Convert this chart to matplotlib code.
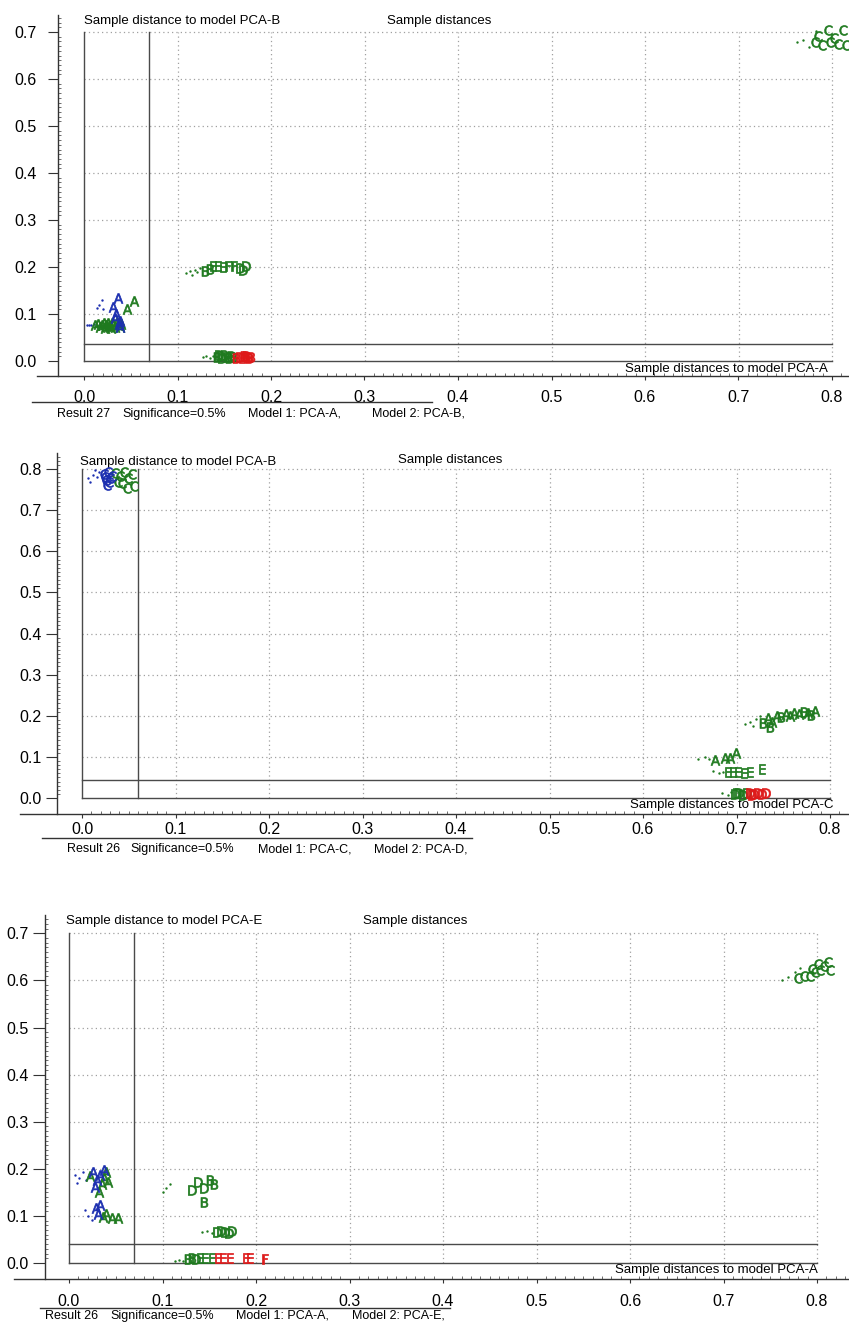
import numpy as np
import matplotlib.pyplot as plt
from matplotlib.lines import Line2D

plt.rcParams['font.family'] = 'Liberation Sans'

W, H = 849, 1324
SX = 935.0  # pixels per distance unit along x

GREEN = '#1f7a1f'
BLUE = '#1c2fb0'
RED = '#de1a1a'
GRAY_LINE = '#4a4a4a'

# ---- Result 27: PCA-A vs PCA-B ----
r27_a_blue_x = [0.031, 0.036, 0.038, 0.034, 0.037, 0.033, 0.039]
r27_a_blue_y = [0.115, 0.134, 0.086, 0.100, 0.078, 0.092, 0.072]
r27_a_green_x = [0.053, 0.046, 0.040, 0.036, 0.031, 0.027, 0.023, 0.019, 0.015, 0.033, 0.028,
                 0.038, 0.024, 0.012, 0.017, 0.021, 0.026, 0.030, 0.035, 0.029, 0.022]
r27_a_green_y = [0.128, 0.110, 0.079, 0.076, 0.078, 0.075, 0.077, 0.076, 0.078, 0.073, 0.072,
                 0.072, 0.074, 0.076, 0.073, 0.080, 0.081, 0.080, 0.082, 0.070, 0.071]
r27_a_dots_x = [0.005, 0.008, 0.011, 0.003, 0.014, 0.019, 0.020, 0.016]
r27_a_dots_y = [0.077, 0.076, 0.078, 0.076, 0.112, 0.130, 0.110, 0.120]

r27_mid_x = [0.129, 0.138, 0.143, 0.154, 0.160, 0.167, 0.173, 0.170, 0.135, 0.149]
r27_mid_y = [0.191, 0.202, 0.202, 0.202, 0.202, 0.198, 0.202, 0.194, 0.196, 0.200]
r27_mid_letters = "BEEFFDDDBE"
r27_mid_dots_x = [0.109, 0.113, 0.119, 0.124, 0.121, 0.116]
r27_mid_dots_y = [0.187, 0.191, 0.194, 0.198, 0.189, 0.184]

r27_low_green_x = [0.142, 0.146, 0.150, 0.153, 0.157, 0.148, 0.155, 0.144, 0.159]
r27_low_green_y = [0.008, 0.010, 0.012, 0.009, 0.011, 0.007, 0.006, 0.012, 0.008]
r27_low_green_letters = "BDBEBDBDB"
r27_low_red_x = [0.163, 0.167, 0.171, 0.175, 0.179, 0.169, 0.177, 0.173]
r27_low_red_y = [0.007, 0.009, 0.010, 0.008, 0.009, 0.006, 0.006, 0.011]
r27_low_red_letters = "BDBDBEBB"
r27_low_dots_x = [0.127, 0.131, 0.135, 0.138]
r27_low_dots_y = [0.008, 0.011, 0.007, 0.010]

r27_c_x = [0.782, 0.785, 0.796, 0.812, 0.798, 0.806, 0.815, 0.789, 0.802]
r27_c_y = [0.679, 0.691, 0.704, 0.704, 0.679, 0.674, 0.672, 0.672, 0.687]
r27_c_dots_x = [0.763, 0.769, 0.783, 0.775]
r27_c_dots_y = [0.679, 0.683, 0.702, 0.668]

# ---- Result 26: PCA-C vs PCA-D ----
r26cd_c_blue_x = [0.024, 0.026, 0.028, 0.030, 0.027, 0.032, 0.025, 0.029]
r26cd_c_blue_y = [0.788, 0.774, 0.793, 0.779, 0.762, 0.783, 0.781, 0.769]
r26cd_c_green_x = [0.035, 0.041, 0.045, 0.049, 0.043, 0.053, 0.056, 0.048, 0.039]
r26cd_c_green_y = [0.791, 0.783, 0.793, 0.779, 0.766, 0.788, 0.759, 0.754, 0.769]
r26cd_c_dots_x = [0.006, 0.012, 0.009, 0.016, 0.018, 0.014]
r26cd_c_dots_y = [0.779, 0.786, 0.769, 0.781, 0.793, 0.798]

r26cd_ab_x = [0.728, 0.734, 0.738, 0.743, 0.748, 0.753, 0.757, 0.762, 0.767, 0.772, 0.777, 0.784, 0.780, 0.736]
r26cd_ab_y = [0.182, 0.195, 0.185, 0.200, 0.197, 0.204, 0.200, 0.207, 0.204, 0.209, 0.207, 0.212, 0.202, 0.173]
r26cd_ab_letters = "BAAABAAAABAABB"
r26cd_ab_dots_x = [0.709, 0.714, 0.721, 0.725, 0.718]
r26cd_ab_dots_y = [0.180, 0.185, 0.192, 0.200, 0.176]

r26cd_a_x = [0.677, 0.688, 0.693, 0.699]
r26cd_a_y = [0.092, 0.097, 0.097, 0.109]
r26cd_a_dots_x = [0.659, 0.666, 0.671]
r26cd_a_dots_y = [0.095, 0.100, 0.094]

r26cd_e_x = [0.691, 0.696, 0.702, 0.708, 0.714, 0.727]
r26cd_e_y = [0.063, 0.063, 0.064, 0.062, 0.063, 0.071]
r26cd_e_dots_x = [0.675, 0.681, 0.686]
r26cd_e_dots_y = [0.066, 0.061, 0.064]

r26cd_low_green_x = [0.698, 0.703, 0.707, 0.711, 0.700]
r26cd_low_green_y = [0.009, 0.011, 0.008, 0.011, 0.013]
r26cd_low_red_x = [0.714, 0.719, 0.723, 0.727, 0.732, 0.717]
r26cd_low_red_y = [0.011, 0.009, 0.013, 0.009, 0.011, 0.007]
r26cd_low_dots_x = [0.684, 0.691, 0.694]
r26cd_low_dots_y = [0.012, 0.007, 0.015]

# ---- Result 26: PCA-A vs PCA-E ----
r26ae_c_x = [0.780, 0.786, 0.793, 0.798, 0.803, 0.807, 0.812, 0.814, 0.801, 0.795]
r26ae_c_y = [0.605, 0.609, 0.609, 0.618, 0.622, 0.631, 0.639, 0.622, 0.635, 0.624]
r26ae_c_dots_x = [0.763, 0.769, 0.776, 0.782]
r26ae_c_dots_y = [0.601, 0.607, 0.618, 0.626]

r26ae_a_up_blue_x = [0.026, 0.030, 0.033, 0.037, 0.028]
r26ae_a_up_blue_y = [0.193, 0.176, 0.187, 0.197, 0.161]
r26ae_a_up_green_x = [0.040, 0.037, 0.022, 0.032, 0.042, 0.035]
r26ae_a_up_green_y = [0.193, 0.180, 0.185, 0.151, 0.172, 0.168]
r26ae_a_up_dots_x = [0.006, 0.011, 0.015, 0.018, 0.009]
r26ae_a_up_dots_y = [0.187, 0.180, 0.193, 0.176, 0.170]

r26ae_a_low_blue_x = [0.029, 0.033, 0.031]
r26ae_a_low_blue_y = [0.117, 0.123, 0.104]
r26ae_a_low_green_x = [0.040, 0.046, 0.052, 0.036]
r26ae_a_low_green_y = [0.104, 0.096, 0.096, 0.098]
r26ae_a_low_dots_x = [0.017, 0.020, 0.025]
r26ae_a_low_dots_y = [0.113, 0.100, 0.091]

r26ae_b_x = [0.138, 0.151, 0.144, 0.155, 0.144, 0.132]
r26ae_b_y = [0.172, 0.176, 0.159, 0.168, 0.130, 0.155]
r26ae_b_letters = "DBDBBD"
r26ae_b_dots_x = [0.100, 0.104, 0.108]
r26ae_b_dots_y = [0.151, 0.159, 0.168]

r26ae_d_x = [0.158, 0.163, 0.167, 0.171, 0.174]
r26ae_d_y = [0.066, 0.068, 0.066, 0.064, 0.068]
r26ae_d_dots_x = [0.142, 0.148, 0.153]
r26ae_d_dots_y = [0.066, 0.068, 0.064]

r26ae_low_green_x = [0.127, 0.132, 0.136, 0.140, 0.145, 0.153]
r26ae_low_green_y = [0.009, 0.010, 0.009, 0.010, 0.010, 0.010]
r26ae_low_green_letters = "BBDEEE"
r26ae_low_red_x = [0.159, 0.165, 0.172, 0.189, 0.194, 0.210]
r26ae_low_red_y = [0.010, 0.010, 0.010, 0.010, 0.010, 0.009]
r26ae_low_red_letters = "EEEEEF"
r26ae_low_dots_x = [0.113, 0.118, 0.122]
r26ae_low_dots_y = [0.005, 0.007, 0.005]


panels = [
    dict(
        x0=84, y0=361, sy=470, band=(0, 428), ytop=0.7,
        yspine_px=58, yspine_top=15, xspine_py=376, xspine_left=37,
        xpad=7, ypad=8, ytick_len=7.5,
        thresh=(0.0695, 0.036),
        ylabel=('Sample distance to model PCA-B', 84, 21),
        title=('Sample distances', 439, 21),
        xlabel=('Sample distances to model PCA-A', 828, 369),
        caption=[('Result 27', 57), ('Significance=0.5%', 122),
                 ('Model 1: PCA-A,', 248), ('Model 2: PCA-B,', 372)],
        caption_py=414, sep=(402, 32, 432),
        letters=[
            (r27_a_green_x, r27_a_green_y, 'A' * len(r27_a_green_x), GREEN),
            (r27_a_blue_x, r27_a_blue_y, 'A' * len(r27_a_blue_x), BLUE),
            (r27_mid_x, r27_mid_y, r27_mid_letters, GREEN),
            (r27_low_green_x, r27_low_green_y, r27_low_green_letters, GREEN),
            (r27_low_red_x, r27_low_red_y, r27_low_red_letters, RED),
            (r27_c_x, r27_c_y, 'C' * len(r27_c_x), GREEN),
        ],
        dots=[
            (r27_a_dots_x, r27_a_dots_y, BLUE),
            (r27_mid_dots_x, r27_mid_dots_y, GREEN),
            (r27_low_dots_x, r27_low_dots_y, GREEN),
            (r27_c_dots_x, r27_c_dots_y, GREEN),
        ],
    ),
    dict(
        x0=82, y0=798, sy=411, band=(432, 862), ytop=0.8,
        yspine_px=57, yspine_top=453, xspine_py=814, xspine_left=20,
        xpad=3, ypad=3, ytick_len=8,
        thresh=(0.060, 0.044),
        ylabel=('Sample distance to model PCA-B', 80, 462),
        title=('Sample distances', 450, 460),
        xlabel=('Sample distances to model PCA-C', 833, 805),
        caption=[('Result 26', 67), ('Significance=0.5%', 130),
                 ('Model 1: PCA-C,', 258), ('Model 2: PCA-D,', 374)],
        caption_py=849, sep=(838, 42, 472),
        letters=[
            (r26cd_c_green_x, r26cd_c_green_y, 'C' * len(r26cd_c_green_x), GREEN),
            (r26cd_c_blue_x, r26cd_c_blue_y, 'C' * len(r26cd_c_blue_x), BLUE),
            (r26cd_ab_x, r26cd_ab_y, r26cd_ab_letters, GREEN),
            (r26cd_a_x, r26cd_a_y, 'A' * len(r26cd_a_x), GREEN),
            (r26cd_e_x, r26cd_e_y, 'E' * len(r26cd_e_x), GREEN),
            (r26cd_low_green_x, r26cd_low_green_y, 'D' * len(r26cd_low_green_x), GREEN),
            (r26cd_low_red_x, r26cd_low_red_y, 'D' * len(r26cd_low_red_x), RED),
        ],
        dots=[
            (r26cd_c_dots_x, r26cd_c_dots_y, BLUE),
            (r26cd_ab_dots_x, r26cd_ab_dots_y, GREEN),
            (r26cd_a_dots_x, r26cd_a_dots_y, GREEN),
            (r26cd_e_dots_x, r26cd_e_dots_y, GREEN),
            (r26cd_low_dots_x, r26cd_low_dots_y, GREEN),
        ],
    ),
    dict(
        x0=69, y0=1263, sy=471, band=(896, 1324), ytop=0.7,
        yspine_px=45, yspine_top=915, xspine_py=1279, xspine_left=14,
        xpad=8, ypad=3, ytick_len=9,
        thresh=(0.0695, 0.040),
        ylabel=('Sample distance to model PCA-E', 66, 921),
        title=('Sample distances', 415, 921),
        xlabel=('Sample distances to model PCA-A', 818, 1270),
        caption=[('Result 26', 45), ('Significance=0.5%', 110),
                 ('Model 1: PCA-A,', 236), ('Model 2: PCA-E,', 352)],
        caption_py=1316, sep=(1308, 40, 450),
        letters=[
            (r26ae_c_x, r26ae_c_y, 'C' * len(r26ae_c_x), GREEN),
            (r26ae_a_up_green_x, r26ae_a_up_green_y, 'A' * len(r26ae_a_up_green_x), GREEN),
            (r26ae_a_up_blue_x, r26ae_a_up_blue_y, 'A' * len(r26ae_a_up_blue_x), BLUE),
            (r26ae_a_low_green_x, r26ae_a_low_green_y, 'A' * len(r26ae_a_low_green_x), GREEN),
            (r26ae_a_low_blue_x, r26ae_a_low_blue_y, 'A' * len(r26ae_a_low_blue_x), BLUE),
            (r26ae_b_x, r26ae_b_y, r26ae_b_letters, GREEN),
            (r26ae_d_x, r26ae_d_y, 'D' * len(r26ae_d_x), GREEN),
            (r26ae_low_green_x, r26ae_low_green_y, r26ae_low_green_letters, GREEN),
            (r26ae_low_red_x, r26ae_low_red_y, r26ae_low_red_letters, RED),
        ],
        dots=[
            (r26ae_c_dots_x, r26ae_c_dots_y, GREEN),
            (r26ae_a_up_dots_x, r26ae_a_up_dots_y, BLUE),
            (r26ae_a_low_dots_x, r26ae_a_low_dots_y, BLUE),
            (r26ae_b_dots_x, r26ae_b_dots_y, GREEN),
            (r26ae_d_dots_x, r26ae_d_dots_y, GREEN),
            (r26ae_low_dots_x, r26ae_low_dots_y, GREEN),
        ],
    ),
]

fig = plt.figure(figsize=(W / 100, H / 100), dpi=100)


def draw_panel(cfg):
    x0, y0, sy = cfg['x0'], cfg['y0'], cfg['sy']
    top, bot = cfg['band']

    def dx(px):
        return (px - x0) / SX

    def dy(py):
        return (y0 - py) / sy

    ax = fig.add_axes([0, 1 - bot / H, 1, (bot - top) / H])
    ax.patch.set_visible(False)
    ax.set_xlim(dx(0), dx(W))
    ax.set_ylim(dy(bot), dy(top))

    ytop = cfg['ytop']
    xright = 0.8

    # dotted grid inside the distance frame
    grid_style = dict(color='#a0a0a0', linestyle=(0, (1, 2.5)), linewidth=0.9, zorder=1)
    for gx in np.arange(0.1, xright + 0.001, 0.1):
        ax.plot([gx, gx], [0, ytop], **grid_style)
    for gy in np.arange(0.1, ytop + 0.001, 0.1):
        ax.plot([0, xright], [gy, gy], **grid_style)

    # frame and critical limits
    line_style = dict(color=GRAY_LINE, linewidth=1.0, zorder=2)
    ax.plot([0, 0], [0, ytop], **line_style)
    ax.plot([0, xright], [0, 0], **line_style)
    tx, ty = cfg['thresh']
    ax.plot([tx, tx], [0, ytop], **line_style)
    ax.plot([0, xright], [ty, ty], **line_style)

    # sample markers
    for xs, ys, letters, color in cfg['letters']:
        for ch in sorted(set(letters)):
            idx = [i for i, c in enumerate(letters) if c == ch]
            ax.scatter([xs[i] for i in idx], [ys[i] for i in idx],
                       marker=r'$\mathsf{%s}$' % ch, s=50, color=color,
                       edgecolors=color, linewidths=0.5, zorder=4)
    for xs, ys, color in cfg['dots']:
        ax.scatter(xs, ys, s=3, color=color, linewidths=0, zorder=3)

    # axes lines
    for s in ('top', 'right'):
        ax.spines[s].set_visible(False)
    ax.spines['left'].set_position(('data', dx(cfg['yspine_px'])))
    ax.spines['left'].set_bounds(dy(cfg['xspine_py']), dy(cfg['yspine_top']))
    ax.spines['bottom'].set_position(('data', dy(cfg['xspine_py'])))
    ax.spines['bottom'].set_bounds(dx(cfg['xspine_left']), dx(W))
    for s in ('left', 'bottom'):
        ax.spines[s].set_color('#333333')
        ax.spines[s].set_linewidth(1.0)

    xt = np.round(np.arange(0, 0.81, 0.1), 1)
    ax.set_xticks(xt)
    ax.set_xticklabels([f'{v:.1f}' for v in xt])
    ax.set_xticks(np.arange(0.01, dx(W), 0.01), minor=True)
    yt = np.round(np.arange(0, ytop + 0.01, 0.1), 1)
    ax.set_yticks(yt)
    ax.set_yticklabels([f'{v:.1f}' for v in yt])
    ax.set_yticks(np.arange(0.01, dy(cfg['yspine_top']), 0.01), minor=True)

    ax.tick_params(axis='x', which='major', direction='out', length=3,
                   width=0.8, pad=cfg['xpad'], labelsize=11.5, color='#333333')
    ax.tick_params(axis='x', which='minor', direction='in', length=2.5,
                   width=0.6, color='#555555')
    ax.tick_params(axis='y', which='major', direction='out', length=cfg['ytick_len'],
                   width=0.8, pad=cfg['ypad'], labelsize=11.5, color='#333333')
    ax.tick_params(axis='y', which='minor', direction='in', length=2.5,
                   width=0.6, color='#555555')

    # labels inside the plot area
    text, px, py = cfg['ylabel']
    ax.text(dx(px), dy(py), text, ha='left', va='center', fontsize=9.5)
    text, px, py = cfg['title']
    ax.text(dx(px), dy(py), text, ha='center', va='center', fontsize=9.5)
    text, px, py = cfg['xlabel']
    ax.text(dx(px), dy(py), text, ha='right', va='center', fontsize=9.5)

    # caption below the axis
    for text, px in cfg['caption']:
        fig.text(px / W, 1 - cfg['caption_py'] / H, text, ha='left', va='center', fontsize=9)
    sy_px, sx1, sx2 = cfg['sep']
    fig.add_artist(Line2D([sx1 / W, sx2 / W], [1 - sy_px / H] * 2,
                          transform=fig.transFigure, color='#333333', linewidth=1.0))


for cfg in panels:
    draw_panel(cfg)

fig.savefig('out.png', dpi=100, facecolor='white')
